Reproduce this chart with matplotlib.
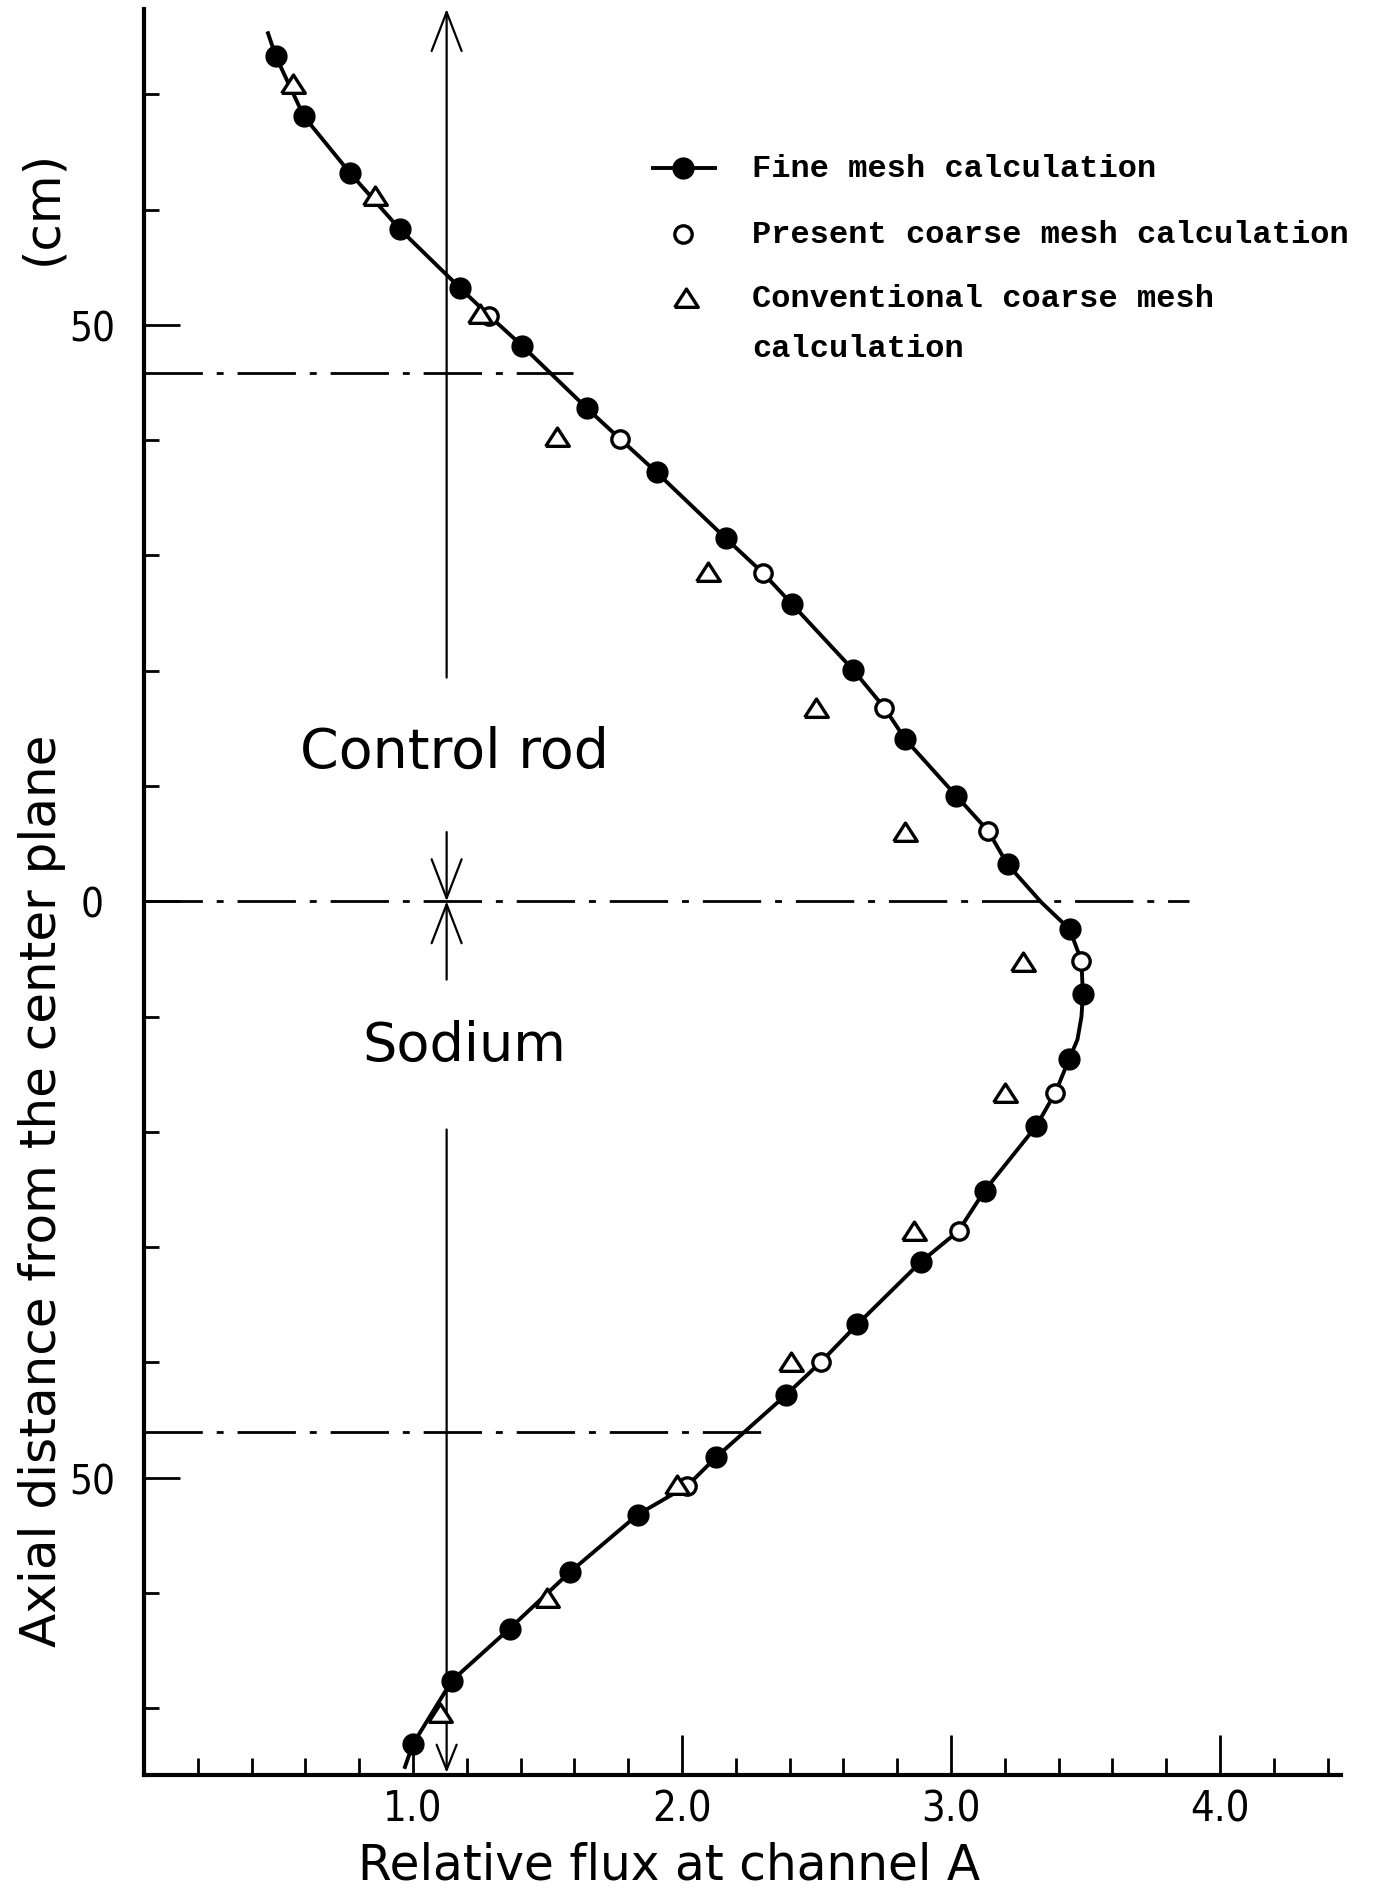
import matplotlib
matplotlib.use('Agg')
from matplotlib import pyplot as plt
from matplotlib.ticker import FixedLocator, MultipleLocator, FuncFormatter

# fine mesh calculation (filled dots)
fine_x = [0.49, 0.594, 0.765, 0.951, 1.175, 1.405, 1.645, 1.906, 2.162, 2.408,
          2.635, 2.83, 3.02, 3.21, 3.441, 3.49, 3.439, 3.317, 3.125, 2.887,
          2.652, 2.388, 2.128, 1.836, 1.583, 1.359, 1.145, 1.00]
fine_y = [73.3, 68.1, 63.2, 58.3, 53.2, 48.2, 42.8, 37.2, 31.5, 25.8,
          20.1, 14.05, 9.13, 3.2, -2.43, -8.07, -13.7, -19.5, -25.1, -31.3,
          -36.7, -42.8, -48.2, -53.2, -58.2, -63.1, -67.6, -73.1]

# the drawn curve (passes through the dots)
curve_x = [0.461, 0.49, 0.594, 0.765, 0.951, 1.175, 1.283, 1.405, 1.645, 1.770,
           1.906, 2.162, 2.30, 2.408, 2.635, 2.752, 2.83, 3.02, 3.138, 3.21,
           3.336, 3.441, 3.485, 3.49, 3.485, 3.47, 3.439, 3.388, 3.317, 3.125,
           3.028, 2.887, 2.652, 2.515, 2.388, 2.128, 2.02, 1.836, 1.583, 1.359,
           1.145, 1.00, 0.97]
curve_y = [75.3, 73.3, 68.1, 63.2, 58.3, 53.2, 50.8, 48.2, 42.8, 40.1,
           37.2, 31.5, 28.5, 25.8, 20.1, 16.8, 14.05, 9.13, 6.1, 3.2,
           -0.1, -2.43, -5.18, -8.07, -10.0, -12.0, -13.7, -16.6, -19.5, -25.1,
           -28.6, -31.3, -36.7, -40.0, -42.8, -48.2, -50.7, -53.2, -58.2, -63.1,
           -67.6, -73.1, -75.1]

# present coarse mesh calculation (open circles)
present_x = [1.283, 1.770, 2.30, 2.752, 3.138, 3.485, 3.388, 3.028, 2.515, 2.02]
present_y = [50.8, 40.1, 28.5, 16.8, 6.1, -5.18, -16.6, -28.6, -40.0, -50.7]

# conventional coarse mesh calculation (open triangles)
conv_x = [0.553, 0.86, 1.25, 1.535, 2.097, 2.499, 2.83, 3.268, 3.20, 2.861,
          2.404, 1.98, 1.499, 1.099]
conv_y = [70.9, 61.2, 50.9, 40.3, 28.6, 16.8, 6.0, -5.3, -16.6, -28.6,
          -40.0, -50.6, -60.4, -70.4]

# dash-dot region borders: height and where each line stops
border_y = [45.8, 0.0, -46.0]
border_end = [1.593, 3.885, 2.30]

x_labels = ['1.0', '2.0', '3.0', '4.0']

tri = [(-1, -0.75), (1, -0.75), (0, 0.8), (-1, -0.75)]  # flat open triangle

fig = plt.figure(figsize=(13.78, 18.9), dpi=100)
ax = fig.add_axes([0.1045, 0.0603, 0.8687, 0.9344])
ax.set_xlim(0, 4.45)
ax.set_ylim(-75.8, 77.4)

for s in ['top', 'right']:
    ax.spines[s].set_visible(False)
for s in ['left', 'bottom']:
    ax.spines[s].set_linewidth(3)

# borders
ax.hlines(border_y, 0, border_end, colors='k', lw=2,
          linestyles=[(0, (21, 5, 2.5, 5))])

# control rod / sodium marker line with arrows
rod_x = 1.125
arr = dict(arrowstyle='->,head_length=1.4,head_width=0.54', lw=1.6, color='k',
           shrinkA=0, shrinkB=0, mutation_scale=20)
ax.annotate('', xy=(rod_x, 77.4), xytext=(rod_x, 19.4), arrowprops=arr,
            annotation_clip=False)
ax.annotate('', xy=(rod_x, 0), xytext=(rod_x, 6.0), arrowprops=arr)
ax.annotate('', xy=(rod_x, 0), xytext=(rod_x, -6.8), arrowprops=arr)
arr2 = dict(arr, arrowstyle='->,head_length=0.9,head_width=0.36')
ax.annotate('', xy=(rod_x, -75.6), xytext=(rod_x, -19.8), arrowprops=arr2,
            annotation_clip=False)

ax.text(1.155, 13.0, 'Control rod', fontsize=40, ha='center', va='center')
ax.text(1.19, -12.5, 'Sodium', fontsize=39, ha='center', va='center')

# data
ax.plot(curve_x, curve_y, '-', color='k', lw=2.8, zorder=3)
ax.plot(fine_x, fine_y, 'o', color='k', ms=15, zorder=4)
ax.plot(present_x, present_y, 'o', mfc='white', mec='k', mew=2.4, ms=12.5, zorder=5)
ax.plot(conv_x, conv_y, ls='none', marker=tri, mfc='white', mec='k', mew=2.4,
        ms=17, zorder=5)

# hand drawn legend
ax.plot([1.892, 2.123], [63.6, 63.6], '-', color='k', lw=2.8)
ax.plot([2.004], [63.6], 'o', color='k', ms=15)
ax.plot([2.004], [57.9], 'o', mfc='white', mec='k', mew=2.4, ms=12.5)
ax.plot([2.015], [52.3], ls='none', marker=tri, mfc='white', mec='k', mew=2.4, ms=17)
leg = dict(family='Liberation Mono', weight='bold', fontsize=23, va='center')
ax.text(2.26, 63.6, 'Fine mesh calculation', **leg)
ax.text(2.26, 57.9, 'Present coarse mesh calculation', **leg)
ax.text(2.26, 52.3, 'Conventional coarse mesh', **leg)
ax.text(2.26, 48.0, 'calculation', **leg)

# ticks
ax.xaxis.set_major_locator(FixedLocator([1, 2, 3, 4]))
ax.set_xticklabels(x_labels)
ax.xaxis.set_minor_locator(MultipleLocator(0.2))
ax.yaxis.set_major_locator(FixedLocator([-50, 0, 50]))
ax.yaxis.set_major_formatter(FuncFormatter(lambda v, p: f'{abs(v):.0f}'))
ax.yaxis.set_minor_locator(MultipleLocator(10))
ax.tick_params(axis='x', which='major', direction='in', length=29, width=2,
               pad=9, labelsize=30)
ax.tick_params(axis='x', which='minor', direction='in', length=12, width=2)
ax.tick_params(axis='y', which='major', direction='in', length=26, width=2,
               pad=37, labelsize=29)
ax.tick_params(axis='y', which='minor', direction='in', length=11, width=2)
for lab in ax.get_yticklabels():
    lab.set_ha('center')
for lab in ax.get_xticklabels() + ax.get_yticklabels():
    lab.set_fontstretch('condensed')

fig.text(0.4855, 0.0053, 'Relative flux at channel A', fontsize=35,
         ha='center', va='baseline')
fig.text(0.0305, 0.370, 'Axial distance from the center plane', fontsize=36,
         rotation=90, ha='center', va='center')
fig.text(0.0305, 0.890, '(cm)', fontsize=36, rotation=90, ha='center', va='center')

fig.savefig('out.png', dpi=100)
